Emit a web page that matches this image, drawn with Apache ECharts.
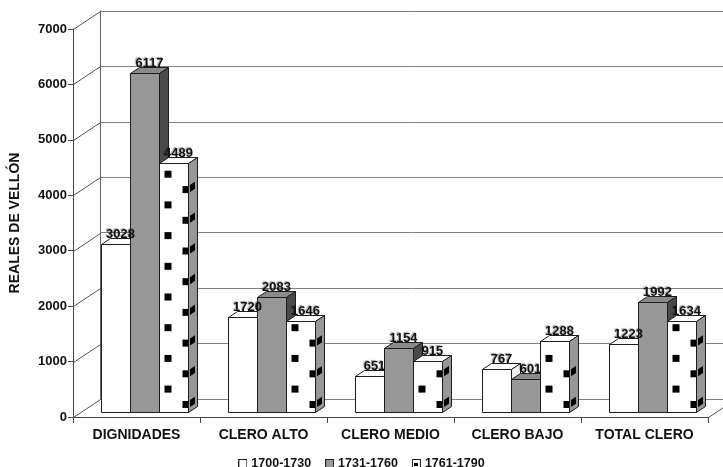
<!DOCTYPE html>
<html>
<head>
<meta charset="utf-8">
<script src="https://cdn.jsdelivr.net/npm/echarts@6/dist/echarts.min.js"></script>
<style>
  html, body { margin: 0; padding: 0; background: #ffffff; }
  #chart { width: 723px; height: 467px; }
</style>
</head>
<body>
<div id="chart"></div>
<script>
// Categories and values (reales de vellón)
const categories = ['DIGNIDADES', 'CLERO ALTO', 'CLERO MEDIO', 'CLERO BAJO', 'TOTAL CLERO'];
const periods = ['1700-1730', '1731-1760', '1761-1790'];
const values1700 = [3028, 1720, 651, 767, 1223];
const values1731 = [6117, 2083, 1154, 601, 1992];
const values1761 = [4489, 1646, 915, 1288, 1634];
const yTickValues = [0, 1000, 2000, 3000, 4000, 5000, 6000, 7000];

// 3D geometry (pixels)
const WALL = { x: 27, y: -18 };      // depth of the back wall
const BAR_OFF = { x: 7.5, y: -5 };   // where bars sit inside the depth
const BAR_DEPTH = { x: 9, y: -6 };   // thickness of each bar
const BAR_FRAC = 29 / 127;           // bar width as a share of the band
const FONT = '"Liberation Sans", Arial, sans-serif';
const EDGE = '#1e1e1e';

const faces = [
  { front: '#ffffff', top: '#ffffff', side: '#f2f2f2' },
  { front: '#989898', top: '#8a8a8a', side: '#4a4a4a' },
  { front: '#ffffff', top: '#ffffff', side: '#979797', dots: true }
];

function px(v) { return Math.round(v) + 0.5; }

function barGeom(api, k, value) {
  const i = api.value(0);
  const base = api.coord([i, 0]);
  const top = api.coord([i, value]);
  const band = api.size([1, 0])[0];
  const w = band * BAR_FRAC;
  const x0 = px(base[0] - 1.5 * w + k * w + BAR_OFF.x);
  const x1 = px(base[0] - 1.5 * w + (k + 1) * w + BAR_OFF.x);
  const yb = px(base[1] + BAR_OFF.y);
  const yt = px(top[1] + BAR_OFF.y);
  return { x0, x1, yb, yt };
}

function poly(points, fill) {
  return {
    type: 'polygon',
    shape: { points },
    style: { fill, stroke: EDGE, lineWidth: 1 }
  };
}

function dotMarks(g) {
  const out = [];
  const s = 7, step = 30.7;
  const slope = BAR_DEPTH.y / BAR_DEPTH.x;
  // left column on the front face
  for (let cy = g.yb - 23.4; cy - s / 2 > g.yt + 1; cy -= step) {
    out.push({ type: 'rect', shape: { x: g.x0 + 5, y: cy - s / 2, width: s, height: s }, style: { fill: '#000' } });
  }
  // right column, cut by the front edge and carried onto the side face
  for (let cy = g.yb - 8; cy - s / 2 > g.yt + 1; cy -= step) {
    out.push({ type: 'rect', shape: { x: g.x1 - 6, y: cy - s / 2, width: 5.5, height: s }, style: { fill: '#000' } });
    const xa = g.x1 + 1.5, xb = g.x1 + 6.5;
    const ya = cy - s / 2 + (xa - g.x1) * slope;
    const yb2 = cy - s / 2 + (xb - g.x1) * slope;
    out.push({
      type: 'polygon',
      shape: { points: [[xa, ya], [xb, yb2], [xb, yb2 + s], [xa, ya + s]] },
      style: { fill: '#000' }
    });
  }
  return out;
}

function makeBarRenderer(k) {
  return function (params, api) {
    const g = barGeom(api, k, api.value(1));
    const f = faces[k];
    const dx = BAR_DEPTH.x, dy = BAR_DEPTH.y;
    const children = [
      poly([[g.x0, g.yt], [g.x1, g.yt], [g.x1, g.yb], [g.x0, g.yb]], f.front),
      poly([[g.x0, g.yt], [g.x1, g.yt], [g.x1 + dx, g.yt + dy], [g.x0 + dx, g.yt + dy]], f.top),
      poly([[g.x1, g.yt], [g.x1 + dx, g.yt + dy], [g.x1 + dx, g.yb + dy], [g.x1, g.yb]], f.side)
    ];
    if (f.dots) children.push(...dotMarks(g));
    return { type: 'group', children };
  };
}

// value labels sit on the top face of each bar
function renderLabels(params, api) {
  const children = [];
  for (let k = 0; k < 3; k++) {
    const v = api.value(k + 1);
    const g = barGeom(api, k, v);
    children.push({
      type: 'text',
      x: (g.x0 + g.x1) / 2 + BAR_DEPTH.x / 2,
      y: g.yt + BAR_DEPTH.y + 2,
      style: {
        text: String(v),
        fill: '#111',
        font: 'bold 13px ' + FONT,
        align: 'center',
        verticalAlign: 'bottom',
        textShadowColor: 'rgba(0,0,0,0.35)',
        textShadowOffsetX: -1,
        textShadowOffsetY: -1,
        textShadowBlur: 1
      }
    });
  }
  return { type: 'group', children };
}

// side wall lines and floor edge
function renderFrame(params, api) {
  const cs = params.coordSys;
  const v = api.value(1);
  const p = api.coord([0, v]);
  const y = px(p[1]);
  const lines = [{
    type: 'line',
    shape: { x1: cs.x + 0.5, y1: y, x2: cs.x + 0.5 + WALL.x, y2: y + WALL.y },
    style: { stroke: '#555', lineWidth: 1 }
  }];
  if (v === 0) {
    const xr = cs.x + cs.width + 0.5;
    lines.push({
      type: 'line',
      shape: { x1: xr, y1: y, x2: xr + WALL.x, y2: y + WALL.y },
      style: { stroke: '#555', lineWidth: 1 }
    });
  }
  return { type: 'group', children: lines };
}

function legendIcon(kind) {
  const c = document.createElement('canvas');
  c.width = 9; c.height = 9;
  const ctx = c.getContext('2d');
  ctx.fillStyle = kind === 1 ? '#989898' : '#ffffff';
  ctx.fillRect(0, 0, 9, 9);
  if (kind === 2) {
    ctx.fillStyle = '#000';
    ctx.fillRect(2, 4, 4, 3);
  }
  ctx.strokeStyle = '#222';
  ctx.lineWidth = 1;
  ctx.strokeRect(0.5, 0.5, 8, 8);
  return 'image://' + c.toDataURL();
}

const chart = echarts.init(document.getElementById('chart'), null, { renderer: 'canvas' });

const valueData = [values1700, values1731, values1761];

chart.setOption({
  animation: false,
  backgroundColor: '#ffffff',
  textStyle: { fontFamily: FONT },
  grid: [
    { left: 73, right: 15, top: 29, bottom: 50, containLabel: false, outerBoundsMode: 'none' },
    { left: 100, right: 0, top: 11, bottom: 68, containLabel: false, outerBoundsMode: 'none' }
  ],
  legend: {
    data: periods.map((p, k) => ({ name: p, icon: legendIcon(k) })),
    top: 452,
    left: 'center',
    itemWidth: 9,
    itemHeight: 9,
    itemGap: 14,
    textStyle: { fontSize: 12.5, fontWeight: 'bold', color: '#111', fontFamily: FONT, padding: [0, 0, 0, -1] },
    selectedMode: false
  },
  xAxis: [
    {
      type: 'category',
      gridIndex: 0,
      data: categories,
      axisLine: { lineStyle: { color: '#444', width: 1 } },
      axisTick: { show: true, length: 6, lineStyle: { color: '#444' } },
      axisLabel: { interval: 0, fontSize: 14, fontWeight: 'bold', color: '#111', margin: 11, fontFamily: FONT },
      splitLine: { show: false }
    },
    { type: 'value', gridIndex: 1, min: 0, max: 1, show: false }
  ],
  yAxis: [
    {
      type: 'value',
      gridIndex: 0,
      min: 0,
      max: 7000,
      interval: 1000,
      name: 'REALES DE VELLÓN',
      nameLocation: 'middle',
      nameRotate: 90,
      nameGap: 51,
      nameTextStyle: { fontSize: 14, fontWeight: 'bold', color: '#111', fontFamily: FONT },
      axisLine: { show: true, lineStyle: { color: '#444', width: 1 } },
      axisTick: { show: true, length: 5, lineStyle: { color: '#444' } },
      axisLabel: {
        fontSize: 13, fontWeight: 'bold', color: '#111', margin: 6, fontFamily: FONT,
        formatter: v => String(v)
      },
      splitLine: { show: false }
    },
    {
      type: 'value',
      gridIndex: 1,
      min: 0,
      max: 7000,
      interval: 1000,
      axisLine: { show: true, lineStyle: { color: '#666', width: 1 } },
      axisTick: { show: false },
      axisLabel: { show: false },
      splitLine: { show: true, lineStyle: { color: '#808080', width: 1 } }
    }
  ],
  series: [
    {
      type: 'custom',
      name: 'frame',
      xAxisIndex: 0,
      yAxisIndex: 0,
      silent: true,
      z: 1,
      data: yTickValues.map(v => [0, v]),
      renderItem: renderFrame
    },
    ...periods.map((p, k) => ({
      type: 'custom',
      name: p,
      xAxisIndex: 0,
      yAxisIndex: 0,
      z: 3,
      itemStyle: { color: faces[k].front },
      data: valueData[k].map((v, i) => [i, v]),
      renderItem: makeBarRenderer(k)
    })),
    {
      type: 'custom',
      name: 'labels',
      xAxisIndex: 0,
      yAxisIndex: 0,
      silent: true,
      z: 10,
      encode: { x: 0, y: [1, 2, 3] },
      data: categories.map((c, i) => [i, values1700[i], values1731[i], values1761[i]]),
      renderItem: renderLabels
    }
  ]
});
</script>
</body>
</html>
